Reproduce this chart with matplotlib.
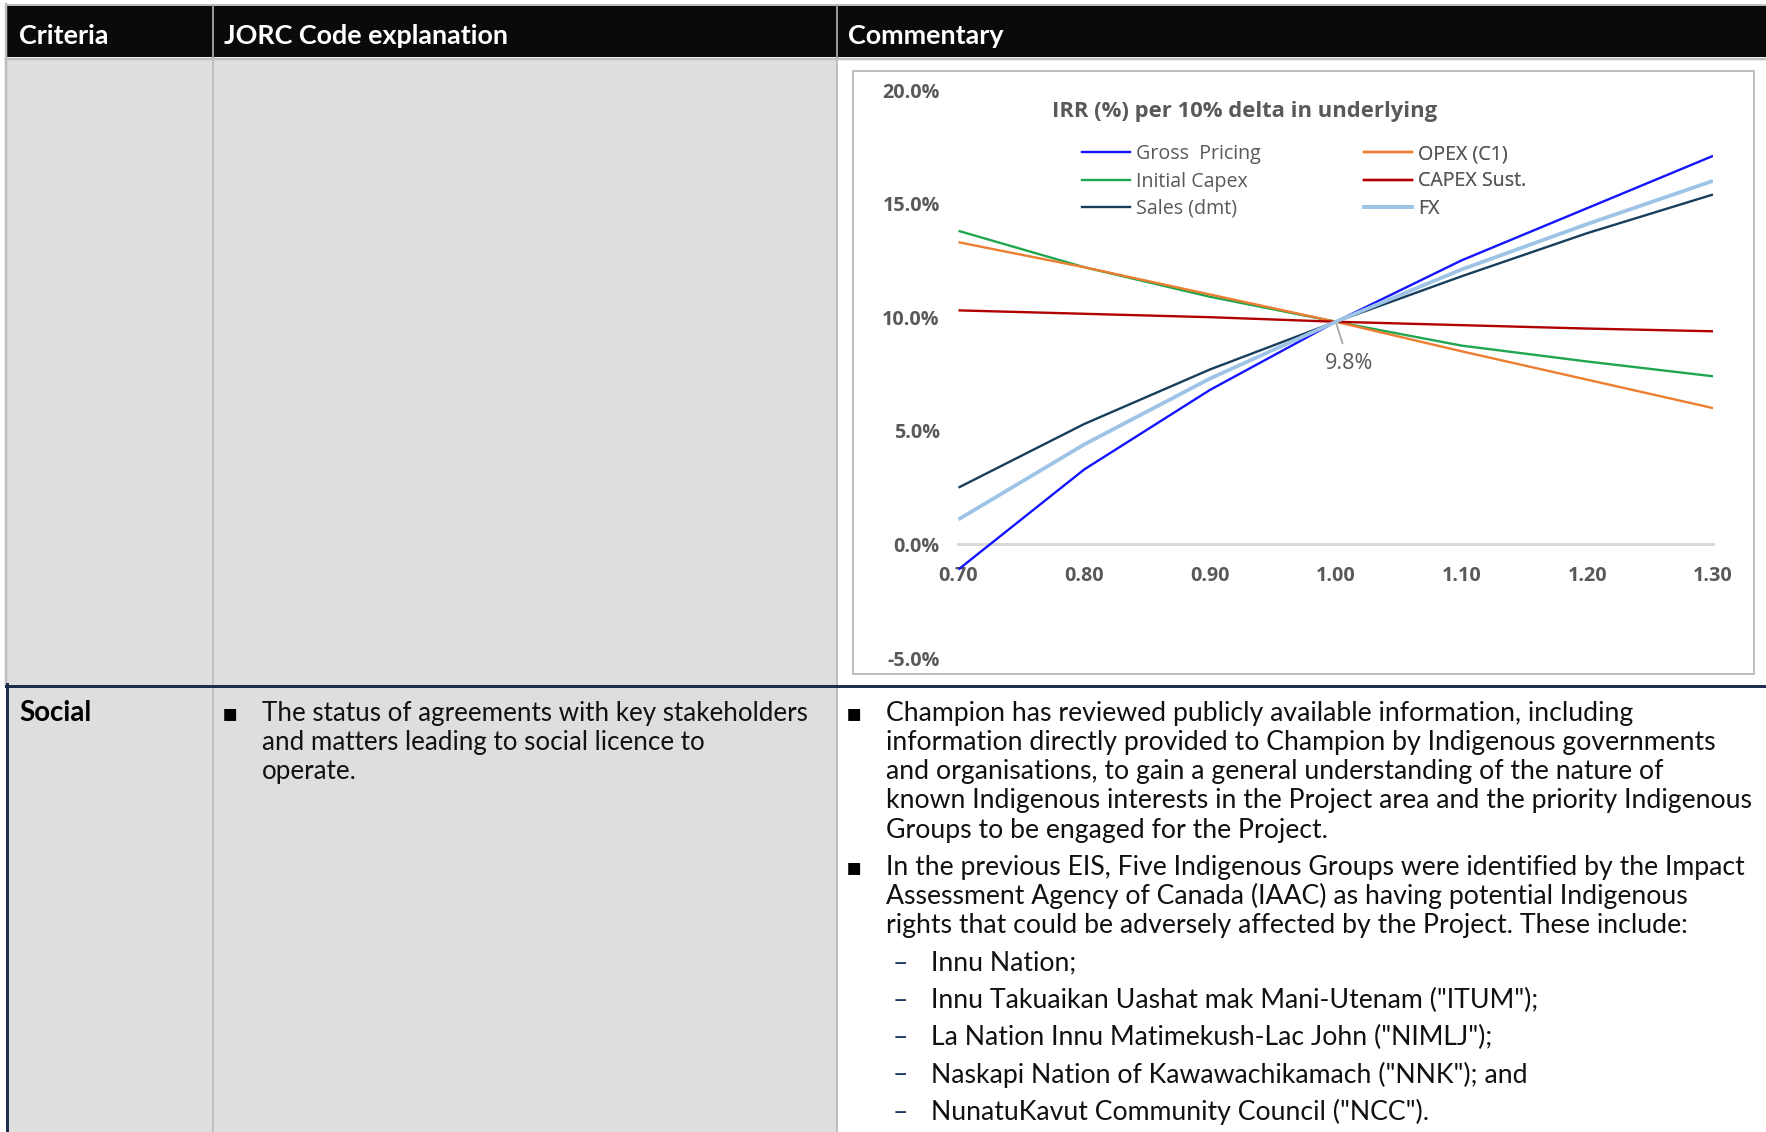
import matplotlib
matplotlib.use("Agg")
import matplotlib.pyplot as plt
from matplotlib.patches import Rectangle
from matplotlib.lines import Line2D
from matplotlib.textpath import TextPath
from matplotlib.font_manager import FontProperties

# ---------------- data ----------------
x_factor = [0.70, 0.80, 0.90, 1.00, 1.10, 1.20, 1.30]
gross_pricing = [-1.1, 3.3, 6.8, 9.8, 12.5, 14.8, 17.1]
initial_capex = [13.8, 12.2, 10.9, 9.8, 8.75, 8.05, 7.4]
sales_dmt = [2.5, 5.3, 7.7, 9.8, 11.8, 13.7, 15.4]
opex_c1 = [13.3, 12.2, 11.0, 9.8, 8.5, 7.25, 6.0]
capex_sust = [10.3, 10.15, 10.0, 9.8, 9.65, 9.5, 9.38]
fx = [1.1, 4.4, 7.3, 9.8, 12.1, 14.1, 16.0]

x_ticks = [0.70, 0.80, 0.90, 1.00, 1.10, 1.20, 1.30]
y_ticks = [-5, 0, 5, 10, 15, 20]
base_irr = 9.8

chart_title = "IRR (%) per 10% delta in underlying"
headers = ["Criteria", "JORC Code explanation", "Commentary"]
row_label = "Social"
col2_lines = ["The status of agreements with key stakeholders",
              "and matters leading to social licence to",
              "operate."]
para1 = ["Champion has reviewed publicly available information, including",
         "information directly provided to Champion by Indigenous governments",
         "and organisations, to gain a general understanding of the nature of",
         "known Indigenous interests in the Project area and the priority Indigenous",
         "Groups to be engaged for the Project."]
para2 = ["In the previous EIS, Five Indigenous Groups were identified by the Impact",
         "Assessment Agency of Canada (IAAC) as having potential Indigenous",
         "rights that could be adversely affected by the Project. These include:"]
groups = ["Innu Nation;",
          "Innu Takuaikan Uashat mak Mani-Utenam (\"ITUM\");",
          "La Nation Innu Matimekush-Lac John (\"NIMLJ\");",
          "Naskapi Nation of Kawawachikamach (\"NNK\"); and",
          "NunatuKavut Community Council (\"NCC\")."]

# ---------------- figure ----------------
W, H, DPI = 1766, 1132, 100
fig = plt.figure(figsize=(W / DPI, H / DPI), dpi=DPI)
PX = 72.0 / DPI  # points per pixel

BODY = ["Lato", "DejaVu Sans"]
CHART = ["Liberation Sans Narrow", "Open Sans", "DejaVu Sans"]
BODY_W = "normal"


def fit(s, target_px, family, weight="normal"):
    fp = FontProperties(family=family, weight=weight, size=100)
    w = TextPath((0, 0), s, prop=fp).get_extents().width
    return 100 * target_px / (w / PX)


cv = fig.add_axes([0, 0, 1, 1])
cv.set_xlim(0, W)
cv.set_ylim(H, 0)
cv.axis("off")
cv.set_zorder(0)

GRAY_CELL = "#dedede"
BORDER = "#bfbfbf"
NAVY = "#1f2d4e"
c1, c2 = 213, 837

# header
cv.add_patch(Rectangle((6, 6), W - 6, 51, facecolor="#0a0a0a", edgecolor="none"))
cv.plot([6, W], [4.5, 4.5], color=BORDER, lw=2 * PX)
cv.plot([6, W], [58.5, 58.5], color=BORDER, lw=2.5 * PX)
for xc in (c1, c2):
    cv.plot([xc, xc], [6, 57], color="#9a9a9a", lw=2 * PX)
# row 1
cv.add_patch(Rectangle((6, 60), c2 - 6, 625, facecolor=GRAY_CELL, edgecolor="none"))
cv.plot([6, 6], [4, 685], color=BORDER, lw=2.5 * PX)
# row 2
cv.add_patch(Rectangle((6, 687), c2 - 6, H - 687, facecolor=GRAY_CELL, edgecolor="none"))
for xc in (c1, c2):
    cv.plot([xc, xc], [59, H], color=BORDER, lw=2 * PX)
cv.plot([6, W], [685.5, 685.5], color=NAVY, lw=3 * PX)
cv.plot([6.5, 6.5], [684, H], color=NAVY, lw=3 * PX)
# chart frame
cv.add_patch(Rectangle((853, 71), 901, 603, facecolor="white", edgecolor=BORDER, lw=2 * PX))

# header texts
fs_head = fit(headers[1], 283, BODY, "bold")
for xt, t in zip((19, 224, 848), headers):
    cv.text(xt, 35.5, t, color="white", fontsize=fs_head, fontweight="bold",
            family=BODY, va="center", ha="left")
fs_soc = fit(row_label, 70, BODY, "bold")
cv.text(19, 713, row_label, color="black", fontsize=fs_soc, fontweight="bold",
        family=BODY, va="center", ha="left")

fs_body3 = 0.5 * (fit(para1[0], 758, BODY, BODY_W) + fit(para1[3], 849, BODY, BODY_W))
fs_body2 = fit(col2_lines[0], 544, BODY, BODY_W)
lh = 29.3
TXT = "#111111"
y0 = 713


def bullet(xb, yb):
    cv.text(xb, yb, "\u25aa", fontsize=fs_body3 * 0.9, family=["DejaVu Sans"],
            color="black", ha="center", va="center")


def body(xb, yb, t, fs):
    cv.text(xb, yb, t, fontsize=fs, family=BODY, fontweight=BODY_W, color=TXT, va="center")


bullet(230, y0)
for i, t in enumerate(col2_lines):
    body(262, y0 + i * lh, t, fs_body2)

bullet(854, y0)
for i, t in enumerate(para1):
    body(886, y0 + i * lh, t, fs_body3)
bullet(854, y0 + 154)
for i, t in enumerate(para2):
    body(886, y0 + 154 + i * lh, t, fs_body3)
for i, t in enumerate(groups):
    yy = y0 + 250 + i * 37.3
    cv.text(900, yy, "\u2013", fontsize=fs_body3, family=BODY, color="#1f3864",
            va="center", ha="center")
    body(931, yy, t, fs_body3)

# ---------------- chart ----------------
x0, x1 = 958.5, 1713.0
yt, yb = 90.0, 658.0
ax = fig.add_axes([x0 / W, 1 - yb / H, (x1 - x0) / W, (yb - yt) / H])
ax.set_zorder(2)
ax.patch.set_alpha(0)
ax.set_xlim(0.70, 1.30)
ax.set_ylim(-5, 20)

TICKC = "#595959"
series = [
    ("Gross  Pricing", gross_pricing, "#1414ff", 1.7),
    ("Initial Capex", initial_capex, "#1fa64e", 1.7),
    ("Sales (dmt)", sales_dmt, "#173f5c", 1.7),
    ("OPEX (C1)", opex_c1, "#ed7d31", 1.7),
    ("CAPEX Sust.", capex_sust, "#b00000", 1.7),
    ("FX", fx, "#9dc3e6", 2.7),
]
handles = []
order = [4, 3, 1, 2, 5, 0]
for k in order:
    name, vals, col, lw = series[k]
    ax.plot(x_factor, vals, color=col, lw=lw, solid_capstyle="butt", zorder=3 + k * 0.01)
for name, vals, col, lw in series:
    handles.append(Line2D([], [], color=col, lw=lw, label=name))

for s in ("left", "right", "top"):
    ax.spines[s].set_visible(False)
ax.spines["bottom"].set_position(("data", 0))
ax.spines["bottom"].set_color("#d9d9d9")
ax.spines["bottom"].set_linewidth(3 * PX)
ax.spines["bottom"].set_zorder(1)

fs_tick = fit("20.0%", 56, CHART, "bold")
ax.set_xticks(x_ticks)
ax.set_xticklabels([f"{v:.2f}" for v in x_ticks])
ax.set_yticks(y_ticks)
ax.set_yticklabels([f"{v:.1f}%" for v in y_ticks])
ax.tick_params(axis="x", length=0, pad=15.5, labelsize=fs_tick, labelcolor=TICKC)
ax.tick_params(axis="y", length=0, pad=13.5, labelsize=fs_tick, labelcolor=TICKC)
for lab in ax.get_xticklabels() + ax.get_yticklabels():
    lab.set_fontweight("bold")
    lab.set_family(CHART)

fs_title = fit(chart_title, 382, CHART, "bold")
fig.text(1245 / W, 1 - 111.5 / H, chart_title, fontsize=fs_title, fontweight="bold",
         family=CHART, color=TICKC, ha="center", va="center")

fs_leg = fit("Gross  Pricing", 123, CHART)
hl = 48 * PX / fs_leg
htp = 6 * PX / fs_leg
lsp = 27 * PX / fs_leg - 1.0
for grp, xa in ((handles[:3], 1082), (handles[3:], 1364)):
    lg = ax.legend(handles=grp, loc="center left",
                   bbox_to_anchor=(xa / W, 1 - 181.5 / H), bbox_transform=fig.transFigure,
                   frameon=False, borderpad=0, borderaxespad=0, handlelength=hl,
                   handletextpad=htp, labelspacing=lsp,
                   prop=FontProperties(family=CHART, size=fs_leg))
    for t in lg.get_texts():
        t.set_color(TICKC)
    ax.add_artist(lg)

fs_ann = fit("9.8%", 46, CHART)
ax.annotate(f"{base_irr:.1f}%", xy=(1.00, base_irr), xytext=(9.4, -30),
            textcoords="offset points", ha="center", va="center",
            fontsize=fs_ann, family=CHART, color=TICKC,
            arrowprops=dict(arrowstyle="-", color="#a6a6a6", lw=1.3,
                            shrinkA=5, shrinkB=2))

fig.savefig("out.png", dpi=DPI)
